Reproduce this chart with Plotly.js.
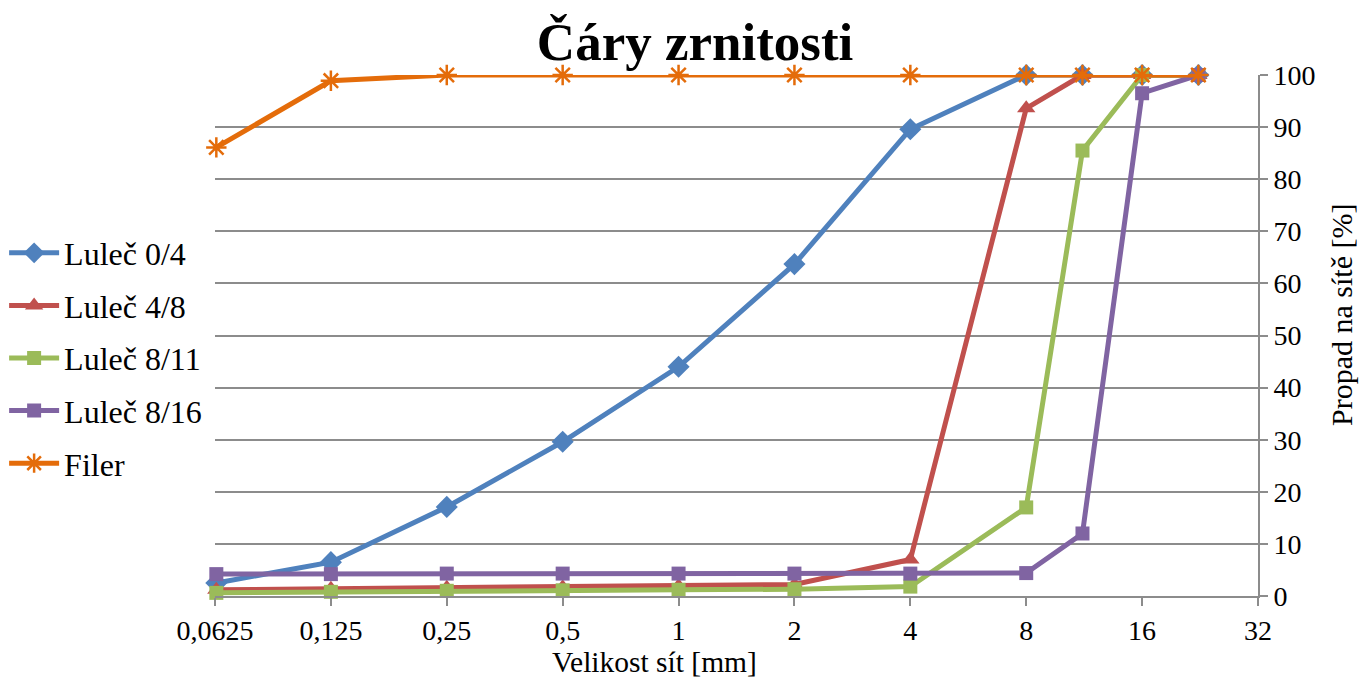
<!DOCTYPE html>
<html>
<head>
<meta charset="utf-8">
<script src="https://cdn.plot.ly/plotly-3.0.1.min.js"></script>
<style>
  html, body { margin: 0; padding: 0; background: #fff; }
  #chart { width: 1371px; height: 682px; }
</style>
</head>
<body>
<div id="chart"></div>
<script>
// sieve sizes [mm]
const sieves = [0.063, 0.125, 0.25, 0.5, 1, 2, 4, 8, 11.2, 16, 22.4];

// passing [%]
const lulec04 = [2.5, 6.5, 17.1, 29.6, 44.0, 63.7, 89.6, 100, 100, 100, 100];
const lulec48 = [1.2, 1.4, 1.6, 1.7, 1.9, 2.2, 7.0, 93.6, 100, 100, 100];
const lulec811 = [0.6, 0.8, 1.0, 1.1, 1.2, 1.3, 1.8, 17.0, 85.5, 100, 100];
const lulec816 = [4.2, 4.2, 4.3, 4.3, 4.3, 4.3, 4.3, 4.4, 12.0, 96.5, 100];
const filer = [86.1, 98.9, 100, 100, 100, 100, 100, 100, 100, 100, 100];

const seriesNames = ["Luleč 0/4", "Luleč 4/8", "Luleč 8/11", "Luleč 8/16", "Filer"];

const xTicks = [0.0625, 0.125, 0.25, 0.5, 1, 2, 4, 8, 16, 32];
const xTickText = ["0,0625", "0,125", "0,25", "0,5", "1", "2", "4", "8", "16", "32"];

const serif = "Liberation Serif";

const styles = [
    { color: "#4F81BD", symbol: "diamond", size: 17 },
    { color: "#C0504D", symbol: "triangle-up", size: 16 },
    { color: "#9BBB59", symbol: "square", size: 14 },
    { color: "#8064A2", symbol: "square", size: 14 },
    { color: "#E46C0A", symbol: "asterisk-open", size: 17 }
];

const values = [lulec04, lulec48, lulec811, lulec816, filer];

const traces = values.map((ys, i) => ({
    x: sieves,
    y: ys,
    name: seriesNames[i],
    legendgroup: "g" + i,
    type: "scatter",
    mode: "lines+markers",
    cliponaxis: false,
    line: { color: styles[i].color, width: 5 },
    marker: {
        symbol: styles[i].symbol,
        size: styles[i].size,
        color: styles[i].color,
        line: { color: styles[i].color, width: styles[i].symbol === "asterisk-open" ? 2.5 : 0 }
    }
}));

const layout = {
    width: 1371,
    height: 682,
    paper_bgcolor: "#fff",
    plot_bgcolor: "#fff",
    margin: { l: 215, r: 113, t: 75, b: 86 },
    font: { family: serif, color: "#000", size: 28 },
    title: {
        text: "<b>Čáry zrnitosti</b>",
        font: { family: serif, size: 53, color: "#000" },
        x: 0.507,
        xanchor: "center",
        y: 1 - 41 / 682,
        yanchor: "middle"
    },
    xaxis: {
        type: "log",
        range: [Math.log10(0.0625), Math.log10(32)],
        tickvals: xTicks,
        ticktext: xTickText,
        showgrid: false,
        zeroline: false,
        showline: true,
        linecolor: "#8c8c8c",
        linewidth: 2,
        ticks: "outside",
        ticklen: 8,
        tickwidth: 2,
        tickcolor: "#8c8c8c",
        tickfont: { family: serif, size: 28, color: "#000" }
    },
    yaxis: {
        side: "right",
        range: [0, 100],
        dtick: 10,
        showgrid: true,
        gridcolor: "#8c8c8c",
        gridwidth: 2,
        zeroline: false,
        showline: true,
        linecolor: "#8c8c8c",
        linewidth: 2,
        ticks: "outside",
        ticklen: 8,
        tickwidth: 2,
        tickcolor: "#8c8c8c",
        tickfont: { family: serif, size: 28, color: "#000" }
    },
    annotations: [
        {
            // x axis title, offset left as in the original
            text: "Velikost sít [mm]",
            xref: "paper",
            yref: "paper",
            x: (654 - 215) / 1043,
            y: -(662 - 596) / 521,
            xanchor: "center",
            yanchor: "middle",
            showarrow: false,
            font: { family: serif, size: 29.5, color: "#000" }
        },
        {
            text: "Propad na sítě [%]",
            textangle: -90,
            xref: "paper",
            yref: "paper",
            x: 1 + (1341 - 1258) / 1043,
            y: (596 - 315) / 521,
            xanchor: "center",
            yanchor: "middle",
            showarrow: false,
            font: { family: serif, size: 30, color: "#000" }
        }
    ],
    showlegend: true,
    legend: {
        xref: "container",
        yref: "container",
        x: 0.003,
        xanchor: "left",
        y: 1 - 358 / 682,
        yanchor: "middle",
        font: { family: serif, size: 32, color: "#000" },
        traceorder: "grouped",
        tracegroupgap: 8,
        itemwidth: 50,
        bgcolor: "rgba(0,0,0,0)"
    }
};

Plotly.newPlot("chart", traces, layout, { displayModeBar: false });
</script>
</body>
</html>
